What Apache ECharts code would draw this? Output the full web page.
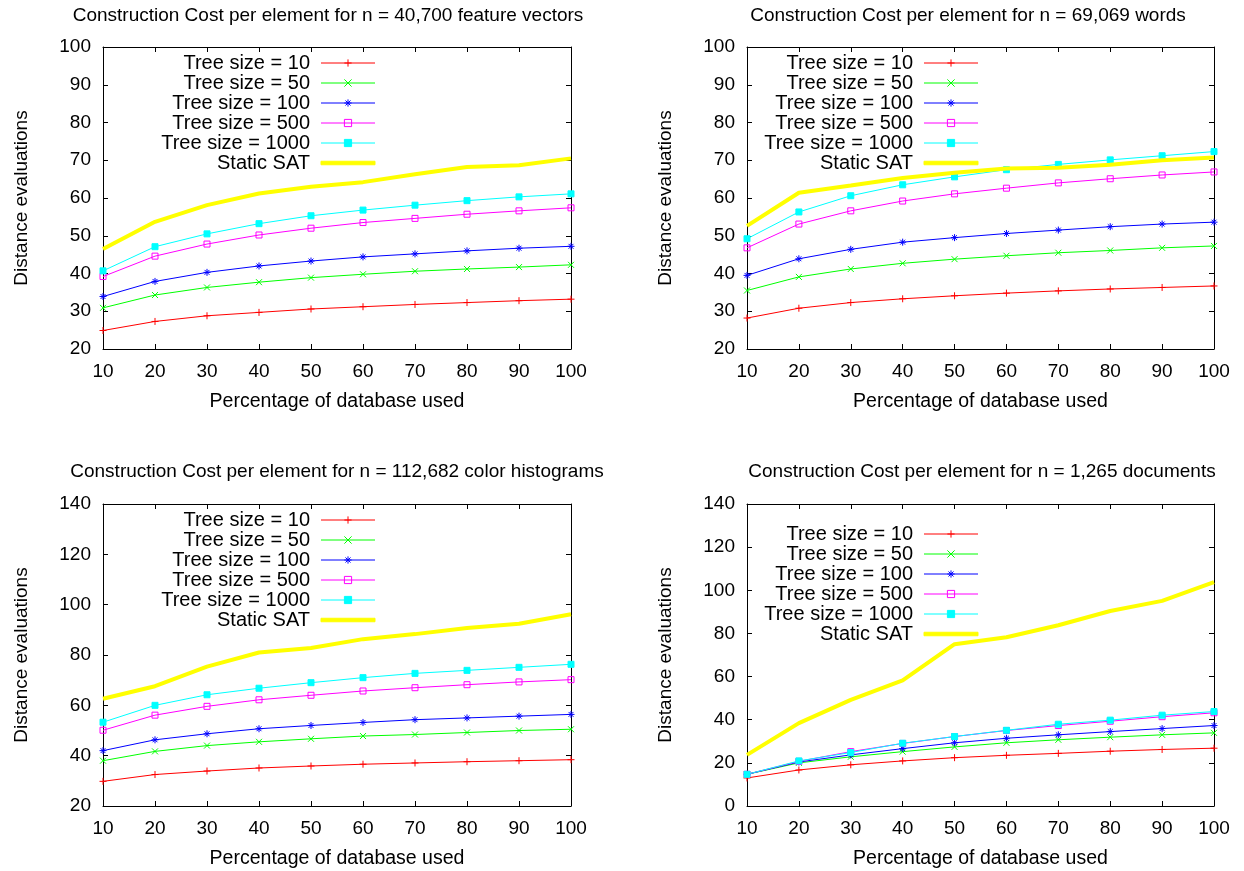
<!DOCTYPE html>
<html>
<head>
<meta charset="utf-8">
<script src="https://cdn.jsdelivr.net/npm/echarts@6/dist/echarts.min.js"></script>
<style>
html,body{margin:0;padding:0;background:#fff;}
#chart{width:1244px;height:871px;}
</style>
</head>
<body>
<div id="chart"></div>
<script>
// ---------- data ----------
const xValues = [10, 20, 30, 40, 50, 60, 70, 80, 90, 100];
const xTicks = { min: 10, max: 100, interval: 10 };
const seriesNames = ['Tree size = 10', 'Tree size = 50', 'Tree size = 100', 'Tree size = 500', 'Tree size = 1000', 'Static SAT'];
const titles = [
  'Construction Cost per element for n = 40,700 feature vectors',
  'Construction Cost per element for n = 69,069 words',
  'Construction Cost per element for n = 112,682 color histograms',
  'Construction Cost per element for n = 1,265 documents'
];
const yRanges = [
  { min: 20, max: 100, interval: 10 },
  { min: 20, max: 100, interval: 10 },
  { min: 20, max: 140, interval: 20 },
  { min: 0, max: 140, interval: 20 }
];
const xAxisTitle = 'Percentage of database used';
const yAxisTitle = 'Distance evaluations';

// Panel 1: 40,700 feature vectors
const p1_t10   = [24.9, 27.3, 28.8, 29.7, 30.6, 31.2, 31.8, 32.3, 32.8, 33.2];
const p1_t50   = [30.9, 34.3, 36.3, 37.7, 38.9, 39.8, 40.6, 41.2, 41.7, 42.3];
const p1_t100  = [33.9, 37.9, 40.3, 42.0, 43.3, 44.4, 45.2, 46.0, 46.7, 47.2];
const p1_t500  = [39.2, 44.6, 47.8, 50.2, 52.0, 53.5, 54.6, 55.7, 56.6, 57.4];
const p1_t1000 = [40.7, 47.1, 50.5, 53.2, 55.3, 56.8, 58.1, 59.3, 60.3, 61.1];
const p1_sat   = [46.5, 53.7, 58.1, 61.2, 63.0, 64.2, 66.3, 68.2, 68.7, 70.5];

// Panel 2: 69,069 words
const p2_t10   = [28.2, 30.8, 32.3, 33.3, 34.1, 34.8, 35.4, 35.9, 36.3, 36.7];
const p2_t50   = [35.5, 39.1, 41.2, 42.7, 43.8, 44.7, 45.5, 46.1, 46.8, 47.3];
const p2_t100  = [39.5, 43.9, 46.4, 48.3, 49.5, 50.6, 51.5, 52.4, 53.1, 53.6];
const p2_t500  = [46.8, 53.1, 56.6, 59.2, 61.1, 62.6, 64.0, 65.1, 66.1, 66.9];
const p2_t1000 = [49.2, 56.3, 60.6, 63.5, 65.6, 67.5, 68.9, 70.1, 71.2, 72.3];
const p2_sat   = [52.6, 61.4, 63.3, 65.3, 66.7, 67.8, 68.0, 68.8, 70.0, 70.7];

// Panel 3: 112,682 color histograms
const p3_t10   = [29.8, 32.5, 33.9, 35.1, 35.9, 36.6, 37.1, 37.6, 38.0, 38.4];
const p3_t50   = [38.0, 41.7, 44.0, 45.5, 46.7, 47.8, 48.4, 49.2, 50.0, 50.5];
const p3_t100  = [42.0, 46.3, 48.7, 50.7, 52.0, 53.2, 54.3, 55.0, 55.7, 56.4];
const p3_t500  = [50.1, 56.1, 59.6, 62.2, 64.0, 65.7, 67.0, 68.2, 69.3, 70.2];
const p3_t1000 = [53.3, 60.0, 64.2, 66.8, 69.0, 71.0, 72.7, 73.9, 75.1, 76.3];
const p3_sat   = [62.6, 67.6, 75.4, 81.0, 82.8, 86.3, 88.3, 90.7, 92.4, 96.2];

// Panel 4: 1,265 documents
const p4_t10   = [13.0, 16.7, 19.1, 20.9, 22.4, 23.5, 24.4, 25.4, 26.2, 26.8];
const p4_t50   = [14.7, 20.0, 22.8, 25.2, 27.4, 29.3, 30.7, 31.9, 33.0, 33.9];
const p4_t100  = [14.7, 20.4, 23.7, 26.6, 29.3, 31.4, 33.0, 34.5, 35.9, 37.3];
const p4_t500  = [14.7, 20.7, 25.2, 29.0, 32.2, 35.0, 37.3, 39.3, 41.4, 43.2];
const p4_t1000 = [14.7, 20.9, 24.8, 29.1, 32.2, 35.1, 37.9, 39.8, 42.1, 43.8];
const p4_sat   = [23.7, 38.4, 49.2, 58.2, 75.0, 78.2, 83.8, 90.4, 95.1, 103.8];

const panelData = [
  [p1_t10, p1_t50, p1_t100, p1_t500, p1_t1000, p1_sat],
  [p2_t10, p2_t50, p2_t100, p2_t500, p2_t1000, p2_sat],
  [p3_t10, p3_t50, p3_t100, p3_t500, p3_t1000, p3_sat],
  [p4_t10, p4_t50, p4_t100, p4_t500, p4_t1000, p4_sat]
];

// ---------- styles / layout ----------
const FONT = "'Liberation Sans', Arial, Helvetica, sans-serif";
const colors = ['#ff0000', '#00ff00', '#0000ff', '#ff00ff', '#00ffff', '#ffff00'];
const symbols = [
  'path://M0,5L10,5M5,0L5,10',
  'path://M0,0L10,10M10,0L0,10',
  'path://M0,5L10,5M5,0L5,10M1.5,1.5L8.5,8.5M8.5,1.5L1.5,8.5',
  'path://M0,0L10,0L10,10L0,10Z',
  'rect',
  'none'
];
const symbolSizes = [7, 6, 7, 6, 6, 0];
const fills = ['#ff0000', '#00ff00', '#0000ff', 'rgba(0,0,0,0)', '#00ffff', '#ffff00'];

const grids = [
  { left: 103, top: 47, width: 468, height: 302 },
  { left: 747, top: 47, width: 467, height: 302 },
  { left: 103, top: 504, width: 468, height: 302 },
  { left: 747, top: 504, width: 467, height: 302 }
];
const titlePos = [
  { x: 328, y: 6 }, { x: 968, y: 6 }, { x: 337, y: 462 }, { x: 982, y: 462 }
];
const legendPos = [
  { left: 150, top: 53 }, { left: 753, top: 53 }, { left: 150, top: 510 }, { left: 753, top: 524 }
];

const option = {
  animation: false,
  backgroundColor: '#ffffff',
  textStyle: { fontFamily: FONT },
  title: [],
  legend: [],
  grid: [],
  xAxis: [],
  yAxis: [],
  series: []
};

function axisCommon() {
  return {
    axisLine: { show: true, onZero: false, lineStyle: { color: '#000', width: 1 } },
    axisTick: { show: true, inside: true, length: 5, lineStyle: { color: '#000', width: 1 } },
    splitLine: { show: false }
  };
}

for (let p = 0; p < 4; p++) {
  option.grid.push(Object.assign({ show: false, containLabel: false, outerBoundsMode: 'none' }, grids[p]));
  option.title.push({
    text: titles[p], left: titlePos[p].x, top: titlePos[p].y, textAlign: 'center', padding: 0,
    textStyle: { fontFamily: FONT, fontSize: 19, fontWeight: 'normal', color: '#000' }
  });
  // bottom x axis
  option.xAxis.push(Object.assign(axisCommon(), {
    gridIndex: p, type: 'value', position: 'bottom',
    min: xTicks.min, max: xTicks.max, interval: xTicks.interval,
    axisLabel: { show: true, color: '#000', fontSize: 19, fontFamily: FONT, margin: 13 },
    name: xAxisTitle, nameLocation: 'middle', nameGap: 43,
    nameTextStyle: { color: '#000', fontSize: 19.5, fontFamily: FONT }
  }));
  // top mirror x axis
  option.xAxis.push(Object.assign(axisCommon(), {
    gridIndex: p, type: 'value', position: 'top',
    min: xTicks.min, max: xTicks.max, interval: xTicks.interval,
    axisLabel: { show: false }
  }));
  // left y axis
  option.yAxis.push(Object.assign(axisCommon(), {
    gridIndex: p, type: 'value', position: 'left',
    min: yRanges[p].min, max: yRanges[p].max, interval: yRanges[p].interval,
    axisLabel: { show: true, color: '#000', fontSize: 19, fontFamily: FONT, margin: 12 },
    name: yAxisTitle, nameLocation: 'middle', nameGap: 72,
    nameTextStyle: { color: '#000', fontSize: 19, fontFamily: FONT }
  }));
  // right mirror y axis
  option.yAxis.push(Object.assign(axisCommon(), {
    gridIndex: p, type: 'value', position: 'right',
    min: yRanges[p].min, max: yRanges[p].max, interval: yRanges[p].interval,
    axisLabel: { show: false }
  }));

  const legendData = [];
  for (let s = 0; s < 6; s++) {
    const vals = panelData[p][s];
    option.series.push({
      type: 'line',
      name: seriesNames[s],
      xAxisIndex: p * 2,
      yAxisIndex: p * 2,
      data: xValues.map((x, i) => [x, vals[i]]),
      symbol: symbols[s],
      symbolSize: symbolSizes[s],
      showSymbol: s !== 5,
      lineStyle: { color: colors[s], width: s === 5 ? 4 : 1 },
      itemStyle: { color: fills[s], borderColor: colors[s], borderWidth: 1 },
      emphasis: { disabled: true },
      z: 2 + s
    });
    if (s === 5) {
      legendData.push({ name: seriesNames[s], icon: 'path://M0,0L54,0L54,3.5L0,3.5Z' });
    } else {
      legendData.push({ name: seriesNames[s] });
    }
  }
  option.legend.push({
    orient: 'vertical',
    left: legendPos[p].left,
    top: legendPos[p].top,
    padding: 0,
    itemGap: 0,
    itemWidth: 54,
    itemHeight: 9,
    align: 'right',
    selectedMode: false,
    data: legendData,
    itemStyle: { borderWidth: 1 },
    lineStyle: { width: 1 },
    textStyle: {
      color: '#000', fontSize: 20, fontFamily: FONT, lineHeight: 20,
      width: 160, align: 'right', padding: [0, 6, 0, 0]
    }
  });
}

const chart = echarts.init(document.getElementById('chart'), null, { renderer: 'canvas', width: 1244, height: 871 });
chart.setOption(option);
</script>
</body>
</html>
